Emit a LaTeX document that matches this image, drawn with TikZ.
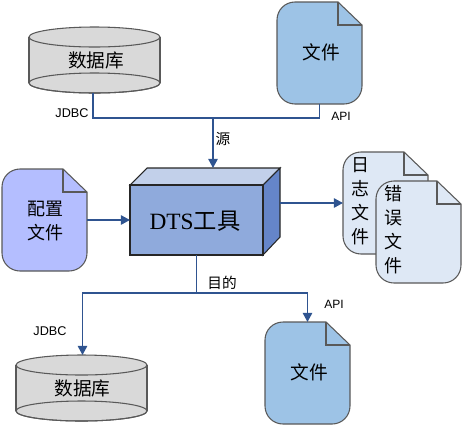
\documentclass[tikz,border=0pt]{standalone}
\usepackage{fontspec}
\setmainfont{Liberation Sans}
\newfontfamily\cjk{Noto Sans CJK SC}
\newfontfamily\dtsfont{Liberation Serif}
\usetikzlibrary{arrows.meta,positioning}

\tikzset{
    outline/.style={draw=black!65, line width=0.8pt},
    link/.style={draw=linkblue, line width=1.2pt},
    linkarrow/.style={link, -{Triangle[length=6.8pt,width=7pt]}},
    slot/.style={inner sep=0pt, outer sep=0pt, align=center},
    small label/.style={font=\fontsize{9}{11}\selectfont, inner sep=0pt},
    cjk label/.style={font=\cjk\fontsize{11}{13}\selectfont, inner sep=0pt},
    big cjk/.style={font=\cjk\fontsize{14}{18}\selectfont},
}
\definecolor{linkblue}{HTML}{2F5490}
\definecolor{dbgray}{HTML}{D9D9D9}
\definecolor{fileblue}{HTML}{9DC3E6}
\definecolor{confblue}{HTML}{B4BEFF}
\definecolor{logblue}{HTML}{DEE8F5}
\definecolor{boxfront}{HTML}{8FAADC}
\definecolor{boxtop}{HTML}{C2D0EA}
\definecolor{boxside}{HTML}{6585C9}

% outline of a sheet, 85 by 102, folded at the top right
\newcommand{\sheet}[1]{%
    \draw[outline, fill=#1] (61, 0) -- (18, 0) .. controls (8, 0) and (0, 8) .. (0, 18)
        -- (0, 84) .. controls (0, 94) and (8, 102) .. (18, 102)
        -- (67, 102) .. controls (77, 102) and (85, 94) .. (85, 84)
        -- (85, 23) -- cycle;
    \draw[outline] (61, 0) -- (61, 23) -- (85, 23);
}
% outline of a drum, 131 by 66
\newcommand{\drum}{%
    \fill[dbgray] (0, 10) rectangle (131, 56);
    \draw[outline, fill=dbgray] (65.5, 56) ellipse (65.5 and 10);
    \fill[dbgray] (0, 10) rectangle (131, 56);
    \draw[outline] (0, 10) -- (0, 56);
    \draw[outline] (131, 10) -- (131, 56);
    \draw[outline] (65.5, 56) ellipse (65.5 and 10);
    \draw[outline, fill=dbgray] (65.5, 10) ellipse (65.5 and 10);
}

\begin{document}
\begin{tikzpicture}[x=0.75pt, y=-0.75pt]
    \useasboundingbox (0, 0) rectangle (463, 426);

    % source database
    \begin{scope}[shift={(29, 27)}]
        \drum
    \end{scope}
    \node[slot, big cjk, minimum width=98.25pt, minimum height=49.5pt] (dbsrc) at (96, 60) {数据库};

    % source file
    \begin{scope}[shift={(277, 2)}]
        \sheet{fileblue}
    \end{scope}
    \node[slot, minimum width=63.75pt, minimum height=76.5pt] (filesrc) at (319.5, 53) {};
    \node[slot, big cjk] (filesrctext) at (321, 52) {文件};

    % config
    \begin{scope}[shift={(2, 169)}]
        \sheet{confblue}
    \end{scope}
    \node[slot, minimum width=63.75pt, minimum height=76.5pt] (conf) at (44.5, 220) {};
    \node[slot, font=\cjk\fontsize{13.5}{18}\selectfont] (conftext) at (45, 221) {配置\\文件};

    % tool
    \draw[outline, draw=black!85, fill=boxtop] (130, 185) -- (147, 168) -- (280, 168) -- (263, 185) -- cycle;
    \draw[outline, draw=black!85, fill=boxside] (263, 185) -- (280, 168) -- (280, 237) -- (263, 255) -- cycle;
    \draw[outline, draw=black!85, fill=boxfront] (130, 185) rectangle (263, 255);
    \node[slot, minimum width=99.75pt, minimum height=52.5pt] (dts) at (196.5, 220) {};
    \node[slot] (dtstext) at (195, 221) {\fontsize{17.5}{20}\selectfont\dtsfont DTS\cjk 工具};
    \coordinate (dtsright) at (280, 203);
    \coordinate (dtstop) at (213, 168);

    % log and error files
    \begin{scope}[shift={(343, 152)}]
        \sheet{logblue}
    \end{scope}
    \node[slot, minimum width=63.75pt, minimum height=76.5pt] (logf) at (385.5, 203) {};
    \node[slot, font=\cjk\fontsize{13.5}{18}\selectfont] (logtext) at (360, 201) {日\\志\\文\\件};
    \begin{scope}[shift={(376, 181)}]
        \sheet{logblue}
    \end{scope}
    \node[slot, font=\cjk\fontsize{13.5}{18}\selectfont] (errtext) at (393, 230) {错\\误\\文\\件};

    % target database
    \begin{scope}[shift={(16, 355)}]
        \drum
    \end{scope}
    \node[slot, big cjk, minimum width=98.25pt, minimum height=49.5pt] (dbdst) at (82.5, 388) {数据库};

    % target file
    \begin{scope}[shift={(265, 322)}]
        \sheet{fileblue}
    \end{scope}
    \node[slot, minimum width=63.75pt, minimum height=76.5pt] (filedst) at (307.5, 373) {};
    \node[slot, big cjk] (filedsttext) at (309, 372) {文件};

    % links
    \coordinate (srcjoin) at (213, 118);
    \coordinate (dstjoin) at (196.5, 293);
    \draw[link] ([xshift=-2.25pt]dbsrc.south) |- (srcjoin);
    \draw[link] (filesrc.south) |- (srcjoin);
    \draw[linkarrow] (srcjoin) -- (dtstop);
    \draw[linkarrow] (conf.east) -- (dts.west);
    \draw[linkarrow] (dtsright) -- (dtsright -| logf.west);
    \draw[link] (dts.south) -- (dstjoin);
    \draw[linkarrow] (dstjoin) -| (dbdst.north);
    \draw[linkarrow] (dstjoin) -| (filedst.north);

    % labels
    \node[small label, font=\fontsize{9.5}{11}\selectfont] (jdbcsrc) at (72, 113) {JDBC};
    \node[small label] (apisrc) at (341, 116) {API};
    \node[cjk label] (srclabel) at (223, 139) {源};
    \node[cjk label] (dstlabel) at (222, 283) {目的};
    \node[small label, font=\fontsize{9.5}{11}\selectfont] (jdbcdst) at (50, 331) {JDBC};
    \node[small label] (apidst) at (334, 304) {API};
\end{tikzpicture}
\end{document}
